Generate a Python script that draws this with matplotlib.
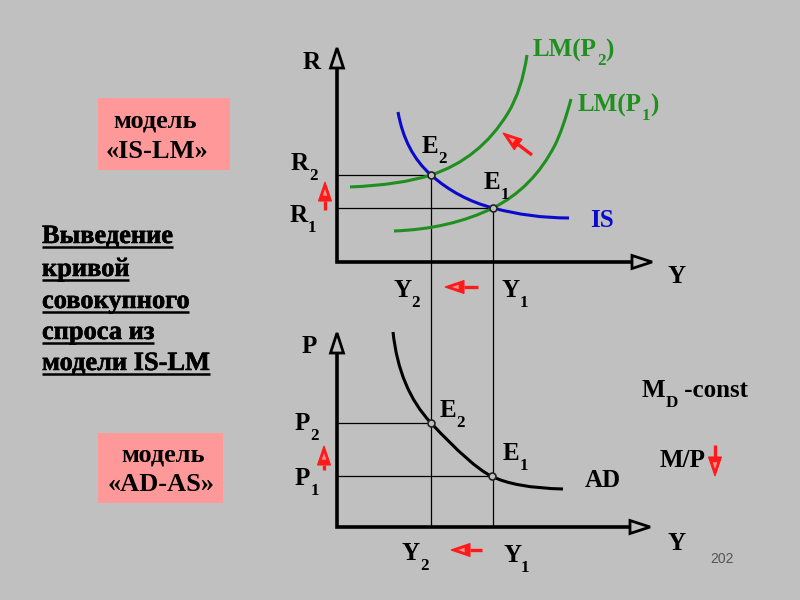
import matplotlib
matplotlib.use("Agg")
import matplotlib.pyplot as plt
import matplotlib.patheffects as pe
from matplotlib.path import Path
from matplotlib.patches import PathPatch, Rectangle, Polygon
import numpy as np

BG = '#c0c0c0'
PINK = '#ff9999'
GREEN = '#1f8f1f'
BLUE = '#0a0acc'
RED = '#ff1a1a'
FONT = 'Liberation Serif'

# curves: start, then (ctrl, on-curve) pairs in pixels
is_pts = [(398, 112), (405, 152), (431, 175), (458, 199), (493, 208), (530, 218), (569, 218)]
lm2_pts = [(350, 187), (400, 185), (431, 175), (480, 159), (508, 113), (522, 90), (527, 55)]
lm1_pts = [(394, 231), (450, 229), (493, 208), (533, 188), (555, 145), (563, 129), (571, 99)]
ad_pts = [(393, 332), (399, 389), (431, 423), (471, 466), (491, 476), (515, 488), (563, 489)]

# equilibrium points
e_upper_x = [431, 493]
e_upper_y = [175, 208]
e_lower_x = [431, 492]
e_lower_y = [423, 476]

# axes: origin, tip of vertical axis, tip of horizontal axis
origins = [(337, 262), (337, 527)]
y_tips = [48, 333]
x_tips = [652, 650]

# red shift arrows: (tail, tip)
red_arrows = [((532, 155), (503, 133)),
              ((325, 210), (325, 182)),
              ((478, 287), (445, 287)),
              ((324, 470), (324, 446)),
              ((482, 550), (451, 550)),
              ((715, 445), (715, 476))]

para_lines = ['Выведение', 'кривой', 'совокупного', 'спроса из', 'модели IS-LM']
para_under = [247, 280, 312, 343, 374]

fig = plt.figure(figsize=(8, 6), dpi=100, facecolor=BG)
ax = fig.add_axes([0, 0, 1, 1])
ax.set_xlim(0, 800)
ax.set_ylim(600, 0)
ax.axis('off')


def lab(x, y, parts, size=18, color='black', drop=10):
    """parts: list of (text, is_subscript); x = left edge, y = baseline"""
    kw = dict(fontfamily=FONT, fontweight='bold', color=color, ha='left', va='baseline')
    prev = None
    for s, sub in parts:
        fs = size * 0.68 if sub else size
        yy = y + drop if sub else y
        if prev is None:
            prev = ax.text(x, yy, s, fontsize=fs, **kw)
        else:
            prev = ax.annotate(s, xy=(1, yy), xycoords=(prev, 'data'),
                               fontsize=fs, annotation_clip=False, **kw)
    return prev


def curve(pts, color):
    codes = [Path.MOVETO] + [Path.CURVE3] * (len(pts) - 1)
    ax.add_patch(PathPatch(Path(pts, codes), fill=False, edgecolor=color,
                           lw=2.2, capstyle='butt', zorder=3))


def head(tip, direction, length, half, fc, ec, lw, inner=None, z=4):
    d = np.asarray(direction, float)
    d = d / np.hypot(*d)
    n = np.array([-d[1], d[0]])
    tip = np.asarray(tip, float)
    base = tip - d * length
    tri = [tip, base + n * half, base - n * half]
    ax.add_patch(Polygon(tri, closed=True, facecolor=fc, edgecolor=ec,
                         lw=lw, joinstyle='miter', zorder=z))
    if inner is not None:
        c = (tip + 2 * base) / 3 + d * length * 0.1
        small = [c + (p - c) * 0.35 for p in tri]
        ax.add_patch(Polygon(small, closed=True, facecolor=inner,
                             edgecolor='none', zorder=z + 0.1))
    return base


# guide lines
for xs, ys in ((e_upper_x, e_upper_y), (e_lower_x, e_lower_y)):
    for xe, ye in zip(xs, ys):
        ax.plot([337, xe], [ye, ye], color='black', lw=0.9, zorder=2)
for xe, ye in zip(e_upper_x, e_upper_y):
    ax.plot([xe, xe], [ye, 527], color='black', lw=0.9, zorder=2)

# axes with open arrow heads
for (ox, oy), yt, xt in zip(origins, y_tips, x_tips):
    by = head((ox, yt), (0, -1), 20, 6.5, BG, 'black', 2.0)[1]
    bx = head((xt, oy), (1, 0), 20, 6.5, BG, 'black', 2.0)[0]
    ax.plot([ox, ox, bx], [by, oy, oy], color='black', lw=2.6,
            solid_joinstyle='miter', solid_capstyle='butt', zorder=3)

curve(is_pts, BLUE)
curve(lm2_pts, GREEN)
curve(lm1_pts, GREEN)
curve(ad_pts, 'black')

ax.plot(e_upper_x, e_upper_y, 'o', ms=5, mfc=BG, mec='#222222', mew=1.2, zorder=5)
ax.plot(e_lower_x, e_lower_y, 'o', ms=5, mfc=BG, mec='#222222', mew=1.2, zorder=5)

for tail, tip in red_arrows:
    d = np.subtract(tip, tail)
    base = head(tip, d, 19, 6.5, RED, RED, 0.8, inner='#ff9090', z=6)
    ax.plot([tail[0], base[0]], [tail[1], base[1]], color=RED, lw=2.4,
            solid_capstyle='butt', zorder=6)

# labels, upper panel
lab(303, 69, [('R', False)])
lab(291, 170, [('R', False), ('2', True)])
lab(290, 222, [('R', False), ('1', True)])
lab(668, 283, [('Y', False)])
lab(393, 297, [('Y', False), ('2', True)])
lab(502, 297, [('Y', False), ('1', True)])
lab(422, 153, [('E', False), ('2', True)])
lab(484, 189, [('E', False), ('1', True)])
lab(533, 57, [('LM(P', False), ('2', True), (')', False)], color=GREEN, drop=8)
lab(578, 112, [('LM(P', False), ('1', True), (')', False)], color=GREEN, drop=8)
lab(590, 227, [('IS', False)], color=BLUE)

# labels, lower panel
lab(302, 353, [('P', False)])
lab(295, 430, [('P', False), ('2', True)])
lab(295, 485, [('P', False), ('1', True)])
lab(440, 417, [('E', False), ('2', True)])
lab(503, 460, [('E', False), ('1', True)])
lab(585, 487, [('AD', False)])
lab(667, 550, [('Y', False)])
lab(402, 560, [('Y', False), ('2', True)])
lab(503, 562, [('Y', False), ('1', True)])
lab(642, 397, [('M', False), ('D', True), (' -const', False)])
lab(660, 467, [('M/P', False)])
ax.text(710, 563, '202', ha='left', va='baseline', fontsize=10,
        color='#555555', fontfamily='Liberation Sans')

# pink boxes
box_kw = dict(fontsize=19, fontfamily=FONT, fontweight='bold', ha='center', va='baseline')
ax.add_patch(Rectangle((98, 98), 132, 72, facecolor=PINK, edgecolor='none'))
ax.text(155, 128, 'модель', **box_kw)
ax.text(157, 158, '«IS-LM»', **box_kw)
ax.add_patch(Rectangle((98, 433), 125, 70, facecolor=PINK, edgecolor='none'))
ax.text(163, 461, 'модель', **box_kw)
ax.text(161, 491, '«AD-AS»', **box_kw)

# underlined heading on the left
shadow = [pe.withStroke(linewidth=0.4, foreground='black')]
texts = [ax.text(42, u - 4, s, fontsize=19, fontfamily=FONT, fontweight='bold',
                 ha='left', va='baseline', path_effects=shadow)
         for s, u in zip(para_lines, para_under)]
fig.canvas.draw()
inv = ax.transData.inverted()
for t, u in zip(texts, para_under):
    bb = t.get_window_extent()
    x0 = inv.transform((bb.x0, bb.y0))[0]
    x1 = inv.transform((bb.x1, bb.y0))[0]
    ax.plot([x0, x1], [u, u], color='black', lw=1.8, solid_capstyle='butt')

fig.savefig('out.png', dpi=100, facecolor=BG)
